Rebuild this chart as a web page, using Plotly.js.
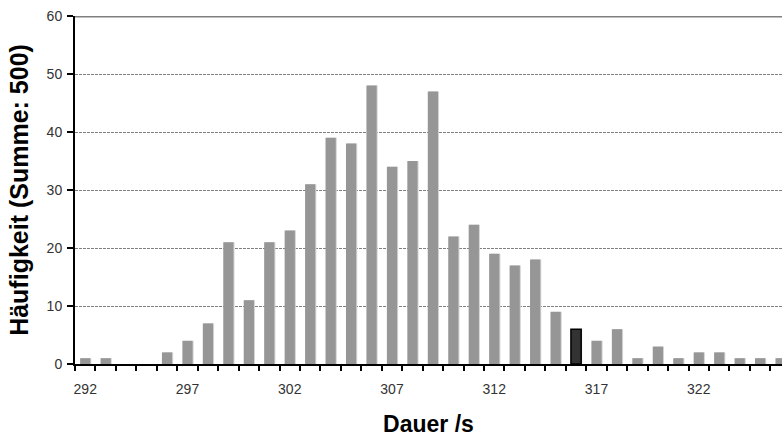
<!DOCTYPE html>
<html>
<head>
<meta charset="utf-8">
<script src="https://cdn.plot.ly/plotly-3.0.1.min.js"></script>
<style>html,body{margin:0;padding:0;background:#fff}#chart{width:782px;height:437px}</style>
</head>
<body>
<div id="chart"></div>
<script>
// Data
const durations = [292,293,294,295,296,297,298,299,300,301,302,303,304,305,306,307,308,309,310,311,312,313,314,315,316,317,318,319,320,321,322,323,324,325,326];
const counts    = [1,1,0,0,2,4,7,21,11,21,23,31,39,38,48,34,35,47,22,24,19,17,18,9,6,4,6,1,3,1,2,2,1,1,1];
const highlighted = 316;
const xTickLabels = [292,297,302,307,312,317,322];
const yTitle = 'Häufigkeit (Summe: 500)';
const xTitle = 'Dauer /s';

const barColors = durations.map(d => d === highlighted ? '#333333' : '#969696');
const lineWidths = durations.map(d => d === highlighted ? 1.5 : 0);
const narrow = "'Liberation Sans Narrow', 'Arial Narrow', 'Liberation Sans', Arial, sans-serif";

const shadow = {
  type: 'bar', x: durations, y: counts, width: 0.5, offset: -0.2,
  marker: {color: '#d4d4d4', line: {width: 0}}, hoverinfo: 'skip', showlegend: false
};
const bars = {
  type: 'bar', x: durations, y: counts, width: 0.5, offset: -0.25,
  marker: {color: barColors, line: {color: '#000000', width: lineWidths}}, showlegend: false
};

const layout = {
  width: 782, height: 437,
  margin: {l: 75, r: 0, t: 16, b: 73},
  paper_bgcolor: '#ffffff', plot_bgcolor: '#ffffff',
  barmode: 'overlay',
  font: {family: "'Liberation Sans', Arial, sans-serif", color: '#000'},
  xaxis: {
    type: 'linear', range: [291.5, 326.07],
    tickmode: 'array', tickvals: xTickLabels, ticktext: xTickLabels.map(String),
    ticks: '', ticklabelstandoff: 11,
    tickfont: {family: narrow, size: 14, color: '#333'},
    showgrid: false, zeroline: false,
    showline: true, linecolor: '#000', linewidth: 2,
    minor: {tickmode: 'linear', tick0: 291.5, dtick: 1, ticks: 'outside', ticklen: 5, tickwidth: 2, tickcolor: '#000', showgrid: false},
    title: {text: xTitle, font: {size: 23, color: '#000', weight: 'bold'}, standoff: 22}
  },
  yaxis: {
    range: [0, 60], dtick: 10, tick0: 0,
    ticks: 'outside', ticklen: 6, tickwidth: 2, tickcolor: '#000',
    tickfont: {family: narrow, size: 14, color: '#333'}, ticklabelstandoff: 2,
    showgrid: true, gridcolor: '#808080', gridwidth: 1, griddash: '3px,1px',
    zeroline: false, showline: true, linecolor: '#000', linewidth: 2,
    title: {text: yTitle, font: {size: 25, color: '#000', weight: 'bold'}, standoff: 11}
  },
  shapes: [{type: 'line', xref: 'paper', x0: 0, x1: 1, yref: 'y', y0: 60, y1: 60, line: {color: '#808080', width: 3}, layer: 'above'}]
};

Plotly.newPlot('chart', [shadow, bars], layout, {displayModeBar: false, staticPlot: true});
</script>
</body>
</html>
